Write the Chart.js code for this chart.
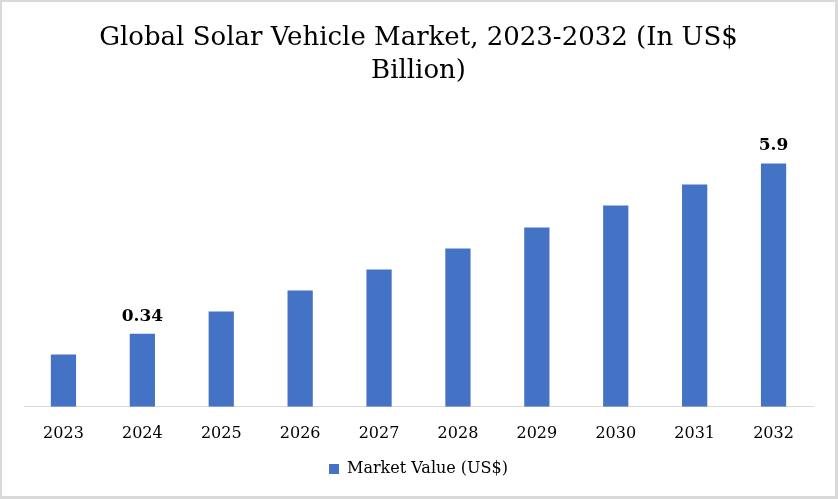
<!DOCTYPE html>
<html>
<head>
<meta charset="utf-8">
<script src="https://cdn.jsdelivr.net/npm/chart.js@4"></script>
<style>
  html, body { margin: 0; padding: 0; background: #fff; }
  #wrap { width: 838px; height: 499px; box-sizing: border-box; border: 2px solid #d9d9d9; border-right-width: 3px; border-bottom-width: 3px; }
</style>
</head>
<body>
<div id="wrap"><canvas id="solarChart"></canvas></div>
<script>
// Data
const years = ['2023', '2024', '2025', '2026', '2027', '2028', '2029', '2030', '2031', '2032'];
const marketValue = [1.27, 1.77, 2.31, 2.82, 3.33, 3.84, 4.35, 4.88, 5.39, 5.9];
const valueLabels = ['', '0.34', '', '', '', '', '', '', '', '5.9'];
const titleLines = ['Global Solar Vehicle Market, 2023-2032 (In US$', 'Billion)'];

const serif = "'DejaVu Serif', Georgia, serif";

// Draw the value text above selected bars
const barLabels = {
    id: 'barLabels',
    afterDatasetsDraw(chart) {
        const ctx = chart.ctx;
        const meta = chart.getDatasetMeta(0);
        ctx.save();
        ctx.font = "bold 17px " + serif;
        ctx.fillStyle = '#000';
        ctx.textAlign = 'center';
        ctx.textBaseline = 'bottom';
        meta.data.forEach((bar, i) => {
            if (valueLabels[i]) {
                ctx.fillText(valueLabels[i], bar.x, bar.y - 9);
            }
        });
        ctx.restore();
    }
};

const ctx = document.getElementById('solarChart').getContext('2d');
new Chart(ctx, {
    type: 'bar',
    data: {
        labels: years,
        datasets: [{
            label: 'Market Value (US$)',
            data: marketValue,
            backgroundColor: '#4472c4',
            categoryPercentage: 0.8,
            barPercentage: 0.4
        }]
    },
    options: {
        responsive: true,
        maintainAspectRatio: false,
        animation: false,
        layout: {
            padding: { left: 22, right: 22, top: 20, bottom: 9 }
        },
        scales: {
            x: {
                grid: { display: false },
                border: { color: '#d9d9d9', width: 1 },
                ticks: {
                    color: '#000',
                    padding: 9,
                    font: { family: serif, size: 16 }
                }
            },
            y: {
                display: false,
                min: 0,
                max: 7.1
            }
        },
        plugins: {
            title: {
                display: true,
                text: titleLines,
                color: '#000',
                font: { family: serif, size: 26, weight: 'normal', lineHeight: 1.27 },
                padding: { top: 0, bottom: 26 }
            },
            legend: {
                position: 'bottom',
                labels: {
                    color: '#000',
                    boxWidth: 10,
                    boxHeight: 10,
                    padding: 9,
                    font: { family: serif, size: 16 }
                }
            },
            tooltip: { enabled: false }
        }
    },
    plugins: [barLabels]
});
</script>
</body>
</html>
